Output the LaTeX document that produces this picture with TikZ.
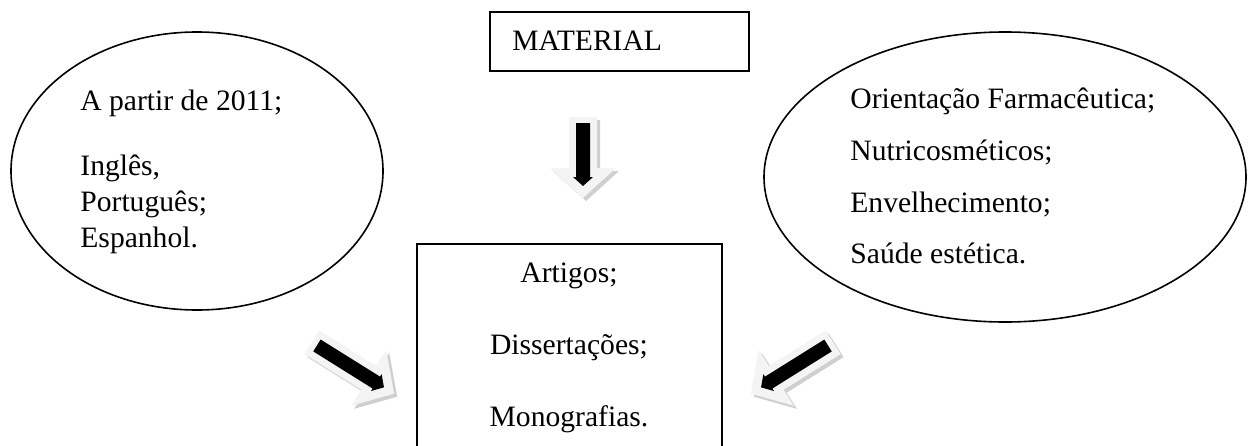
\documentclass[tikz,border=0pt]{standalone}
\usepackage{fontspec}
\setmainfont{Liberation Serif}
\usetikzlibrary{shapes.geometric}

\tikzset{
  frame/.style={draw=black, line width=0.9pt},
  oval/.style={draw=black, line width=0.8pt, ellipse, inner sep=0pt},
  txt/.style={anchor=base west, inner sep=0pt, font=\fontsize{14.8}{17}\selectfont},
  ctxt/.style={anchor=base, inner sep=0pt, font=\fontsize{14.8}{17}\selectfont},
  arrowlight/.style={fill=gray!9},
  arrowshade/.style={fill=gray!38},
  arrowcore/.style={fill=black},
}

% Outer outline of a block arrow of length #1, pointing along +x, centred at 0
\newcommand\OuterArrow[1]{%
  ({-#1/2},-14) -- ({#1/2-30},-14) -- ({#1/2-30},-33) -- ({#1/2},0) --
  ({#1/2-30},33) -- ({#1/2-30},14) -- ({-#1/2},14) -- cycle}
% Black core of the same arrow
\newcommand\CoreArrow[1]{%
  ({-#1/2+6},-7) -- ({#1/2-21},-7) -- ({#1/2-21},-10) -- ({#1/2-12},0) --
  ({#1/2-21},10) -- ({#1/2-21},7) -- ({-#1/2+6},7) -- cycle}
% Shaded block arrow: centre x, centre y, angle, length
\newcommand\BlockArrow[4]{%
  \begin{scope}[shift={(#1+3,#2+3)}, rotate=#3]
    \path[arrowshade] \OuterArrow{#4};
  \end{scope}
  \begin{scope}[shift={(#1,#2)}, rotate=#3]
    \path[arrowlight] \OuterArrow{#4};
    \path[arrowcore] \CoreArrow{#4};
  \end{scope}}

\begin{document}
\begin{tikzpicture}[x=0.5pt, y=-0.5pt]
  \clip (0,0) rectangle (1248,445);
  \fill[white] (0,0) rectangle (1248,445);

  % top box
  \node[frame, minimum width=129.5pt, minimum height=29.5pt, inner sep=0pt]
    (material) at (619.5,41.5) {};
  \node[txt] (materialtxt) at (512,50) {MATERIAL};

  % left ellipse
  \node[oval, minimum width=186pt, minimum height=139pt] (lang) at (197,171) {};
  \node[txt] (l1) at (80,110) {A partir de 2011;};
  \node[txt] (l2) at (80,175) {Inglês,};
  \node[txt] (l3) at (80,211) {Português;};
  \node[txt] (l4) at (80,247) {Espanhol.};

  % right ellipse
  \node[oval, minimum width=241pt, minimum height=145pt] (topics) at (1005,177) {};
  \node[txt] (r1) at (850,108) {Orientação Farmacêutica;};
  \node[txt] (r2) at (850,160) {Nutricosméticos;};
  \node[txt] (r3) at (850,212) {Envelhecimento;};
  \node[txt] (r4) at (850,263) {Saúde estética.};

  % bottom box (runs past the lower edge)
  \node[frame, minimum width=152.5pt, minimum height=120pt, inner sep=0pt]
    (types) at (569.5,364) {};
  \node[ctxt] (b1) at (569,282) {Artigos;};
  \node[ctxt] (b2) at (569,354) {Dissertações;};
  \node[ctxt] (b3) at (569,426) {Monografias.};

  % block arrows
  \BlockArrow{583}{157.5}{-90}{81}
  \BlockArrow{353}{368}{-32}{97}
  \BlockArrow{792}{368}{-148}{97}
\end{tikzpicture}
\end{document}
